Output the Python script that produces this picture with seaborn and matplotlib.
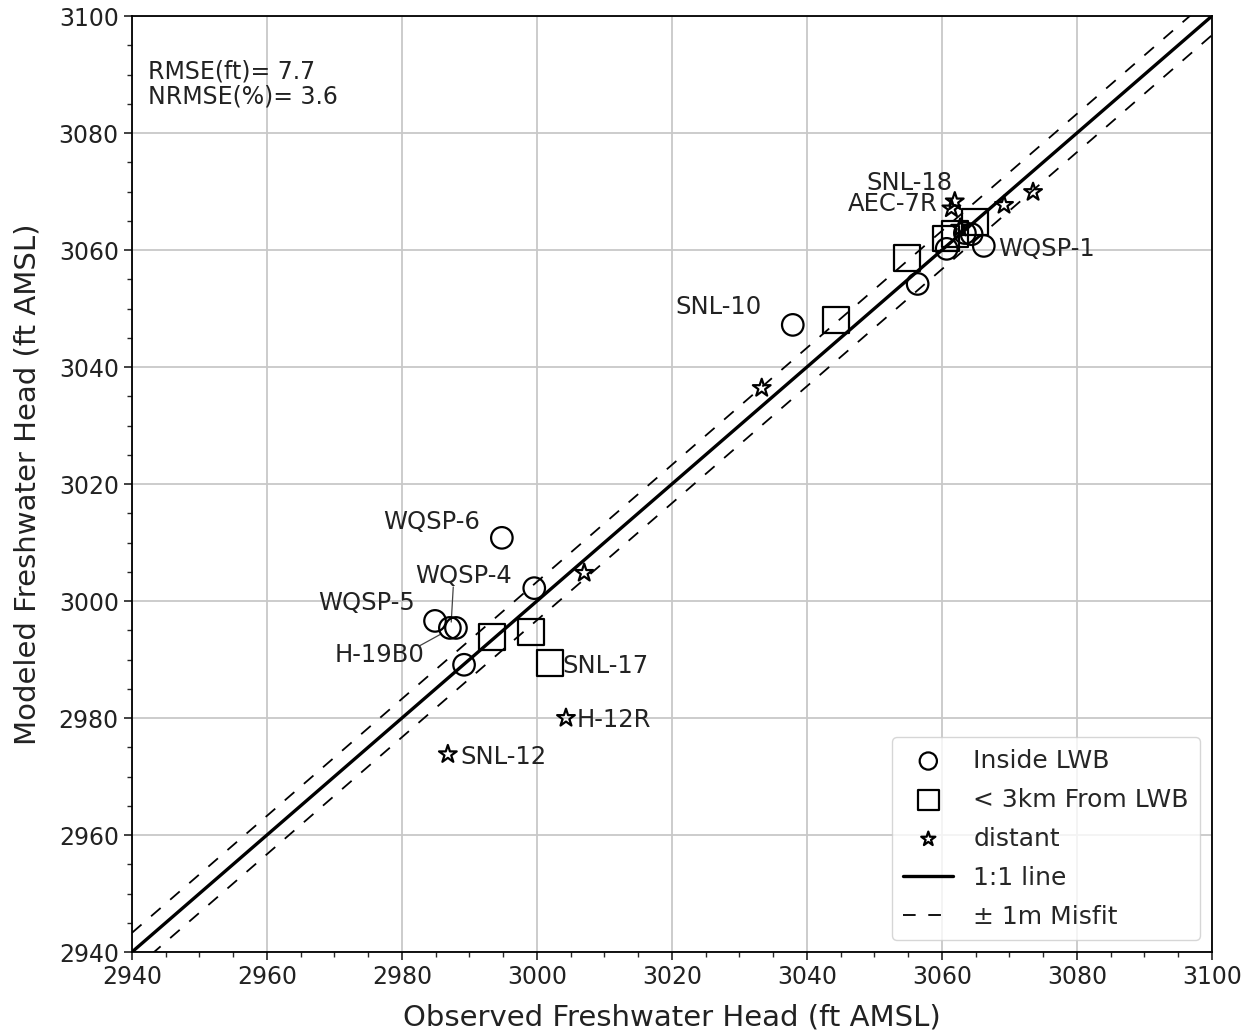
from __future__ import annotations

import matplotlib

matplotlib.use("Agg")
import matplotlib.pyplot as plt
import numpy as np
import pandas as pd
import seaborn as sns
from matplotlib.ticker import MultipleLocator

OUT_PATH = "out.png"

# observed / modeled heads (ft AMSL)
inside_obs = [3037.9, 3056.4, 3060.7, 3066.2, 3063.4, 3064.4,
              2994.8, 2999.6, 2984.9, 2987.1, 2988.0, 2989.2]
inside_mod = [3047.2, 3054.2, 3060.2, 3060.7, 3062.9, 3062.7,
              3010.8, 3002.2, 2996.6, 2995.4, 2995.4, 2989.1]

near_obs = [3044.3, 3054.8, 3060.6, 3061.9, 3064.9, 2993.3, 2999.1, 3001.9]
near_mod = [3048.0, 3058.6, 3062.0, 3062.7, 3064.8, 2993.8, 2994.7, 2989.4]

distant_obs = [3073.5, 3069.2, 3061.9, 3061.4, 3062.7, 3033.3, 3007.0, 3004.3, 2986.8]
distant_mod = [3069.9, 3067.7, 3068.3, 3067.1, 3063.8, 3036.4, 3004.8, 2980.0, 2973.8]

groups = ["Inside LWB", "< 3km From LWB", "distant"]
group_markers = {"Inside LWB": "o", "< 3km From LWB": "s", "distant": "*"}
group_sizes = {"Inside LWB": 240, "< 3km From LWB": 340, "distant": 180}

# well labels: (name, x, y, ha)
labels = [
    ("SNL-18", 3061.5, 3071.5, "right"),
    ("AEC-7R", 3059.3, 3067.9, "right"),
    ("WQSP-1", 3068.3, 3060.2, "left"),
    ("SNL-10", 3033.3, 3050.3, "right"),
    ("WQSP-6", 2991.6, 3013.5, "right"),
    ("WQSP-4", 2996.3, 3004.3, "right"),
    ("WQSP-5", 2981.9, 2999.7, "right"),
    ("H-19B0", 2983.3, 2990.8, "right"),
    ("SNL-17", 3003.8, 2988.9, "left"),
    ("H-12R", 3005.9, 2979.7, "left"),
    ("SNL-12", 2988.7, 2973.3, "left"),
]

LIMS = [2940, 3100]
MISFIT_FT = 3.28
RMSE_FT = 7.7
NRMSE_PCT = 3.6


def main() -> None:
    frames = [
        pd.DataFrame({"obs": inside_obs, "mod": inside_mod, "group": groups[0]}),
        pd.DataFrame({"obs": near_obs, "mod": near_mod, "group": groups[1]}),
        pd.DataFrame({"obs": distant_obs, "mod": distant_mod, "group": groups[2]}),
    ]
    df = pd.concat(frames, ignore_index=True)

    sns.set_theme(style="ticks")
    plt.rcParams["font.family"] = ["DejaVu Sans"]

    fig = plt.figure(figsize=(12.52, 10.33), dpi=100)
    ax = fig.add_axes([0.1054, 0.0784, 0.8626, 0.9061])

    for g in groups:
        sub = df[df["group"] == g]
        sns.scatterplot(
            data=sub, x="obs", y="mod", ax=ax,
            marker=group_markers[g], s=group_sizes[g],
            facecolors="none", edgecolor="black", linewidth=1.6,
            label=g, zorder=3,
        )

    lims = np.array(LIMS, dtype=float)
    ax.plot(lims, lims, color="black", lw=2.4, label="1:1 line", zorder=2)
    ax.plot(lims, lims + MISFIT_FT, color="black", lw=1.3, ls=(0, (7, 7)),
            label="\u00b1 1m Misfit", zorder=2)
    ax.plot(lims, lims - MISFIT_FT, color="black", lw=1.3, ls=(0, (7, 7)), zorder=2)

    # leader lines for the crowded pair
    ax.plot([2987.6, 2987.3], [3002.4, 2996.4], color="#444444", lw=0.9)
    ax.plot([2982.7, 2985.7], [2992.4, 2994.3], color="#444444", lw=0.9)

    for name, x, y, ha in labels:
        ax.text(x, y, name, ha=ha, va="center", fontsize=17.5, color="#222222")

    ax.text(0.015, 0.954, f"RMSE(ft)= {RMSE_FT}\nNRMSE(%)= {NRMSE_PCT}",
            transform=ax.transAxes, ha="left", va="top", fontsize=17,
            color="#222222", linespacing=1.1)

    ax.set_xlim(*LIMS)
    ax.set_ylim(*LIMS)
    ax.xaxis.set_major_locator(MultipleLocator(20))
    ax.yaxis.set_major_locator(MultipleLocator(20))
    ax.xaxis.set_minor_locator(MultipleLocator(5))
    ax.yaxis.set_minor_locator(MultipleLocator(5))
    ax.tick_params(which="major", labelsize=17, length=6, width=1.2, colors="#222222")
    ax.tick_params(which="minor", length=3.5, width=1.0)
    ax.grid(True, which="major", color="#c8c8c8", lw=1.3)
    for sp in ax.spines.values():
        sp.set_color("black")
        sp.set_linewidth(1.3)

    ax.set_xlabel("Observed Freshwater Head (ft AMSL)", fontsize=21, color="#222222",
                  labelpad=10)
    ax.set_ylabel("Modeled Freshwater Head (ft AMSL)", fontsize=21, color="#222222",
                  labelpad=12)

    leg = ax.legend(loc="lower right", fontsize=18, frameon=True, handlelength=2.0,
                    borderpad=0.45, labelspacing=0.6, handletextpad=0.8,
                    markerscale=0.8, borderaxespad=0,
                    bbox_to_anchor=(0.989, 0.013))
    leg.get_frame().set_edgecolor("#cccccc")

    fig.savefig(OUT_PATH, dpi=100)
    plt.close(fig)


if __name__ == "__main__":
    main()
